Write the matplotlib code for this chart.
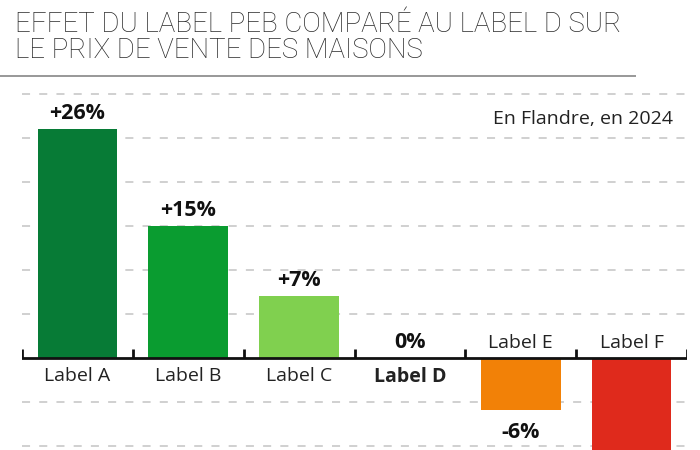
import matplotlib
matplotlib.use('Agg')
import matplotlib.pyplot as plt
from matplotlib.lines import Line2D

categories = ['Label A', 'Label B', 'Label C', 'Label D', 'Label E', 'Label F']
values = [26, 15, 7, 0, -6, -15]
value_labels = ['+26%', '+15%', '+7%', '0%', '-6%', '-15%']
colors = ['#077B36', '#0A9C30', '#80D04F', '#FFFFFF', '#F28107', '#DF2A1C']
title_lines = ['EFFET DU LABEL PEB COMPARÉ AU LABEL D SUR', 'LE PRIX DE VENTE DES MAISONS']
subtitle = 'En Flandre, en 2024'
grid_values = [30, 25, 20, 15, 10, 5, -5, -10]

plt.rcParams['font.family'] = ['Open Sans', 'DejaVu Sans']
plt.rcParams['lines.scale_dashes'] = False

W, H = 700, 450
fig = plt.figure(figsize=(7, 4.5), dpi=100)
ax = fig.add_axes([22 / W, 0, 665 / W, 360 / H])
ax.set_xlim(-0.5, len(categories) - 0.5)
ax.set_ylim(-10.51, 30.49)
ax.axis('off')

PX = 72 / 100  # points per pixel

for g in grid_values:
    ax.axhline(g, color='#cdcdcd', lw=1.3, dashes=(5.8, 6.6), zorder=1)

x = list(range(len(categories)))
ax.bar(x, values, width=0.72, color=colors, zorder=2)

ax.axhline(0, color='#111111', lw=2.0, zorder=3)
bounds = [i - 0.5 for i in range(len(categories) + 1)]
ax.vlines(bounds, 0, 9 / 8.78, color='#111111', lw=2.0, zorder=3)

for i, (c, v, lab) in enumerate(zip(categories, values, value_labels)):
    is_ref = (v == 0)
    cw = 'bold' if is_ref else 'normal'
    if v >= 0:
        ax.annotate(c, (i, 0), xytext=(0, -9.5 * PX), textcoords='offset points',
                    ha='center', va='top', fontsize=14, color='#222222', fontweight=cw)
        ax.annotate(lab, (i, v), xytext=(0, 10 * PX), textcoords='offset points',
                    ha='center', va='baseline', fontsize=15.5, color='#111111', fontweight='bold')
    else:
        ax.annotate(c, (i, 0), xytext=(0, 10 * PX), textcoords='offset points',
                    ha='center', va='baseline', fontsize=14, color='#222222')
        ax.annotate(lab, (i, v), xytext=(0, -12 * PX), textcoords='offset points',
                    ha='center', va='top', fontsize=15.5, color='#111111', fontweight='bold')

fig.text(673 / W, 1 - 123.5 / H, subtitle, ha='right', va='baseline', fontsize=14, color='#222222')

# title
tfam = ['Roboto', 'Open Sans', 'DejaVu Sans']
t1 = fig.text(15 / W, 1 - 31.7 / H, title_lines[0], ha='left', va='baseline', family=tfam,
              fontsize=20, color='#2a2a2a', fontweight='light', fontstretch='condensed')
t2 = fig.text(15 / W, 1 - 58.3 / H, title_lines[1], ha='left', va='baseline', family=tfam,
              fontsize=20, color='#2a2a2a', fontweight='light', fontstretch='condensed')
fig.canvas.draw()
r = fig.canvas.get_renderer()
wpx = t1.get_window_extent(r).width
fs = 20 * 606 / wpx
t1.set_fontsize(fs)
t2.set_fontsize(fs)

fig.add_artist(Line2D([0, 635 / W], [1 - 76 / H, 1 - 76 / H], color='#9a9a9a', lw=2 * PX,
                      transform=fig.transFigure))

fig.savefig('out.png', dpi=100, facecolor='white')
